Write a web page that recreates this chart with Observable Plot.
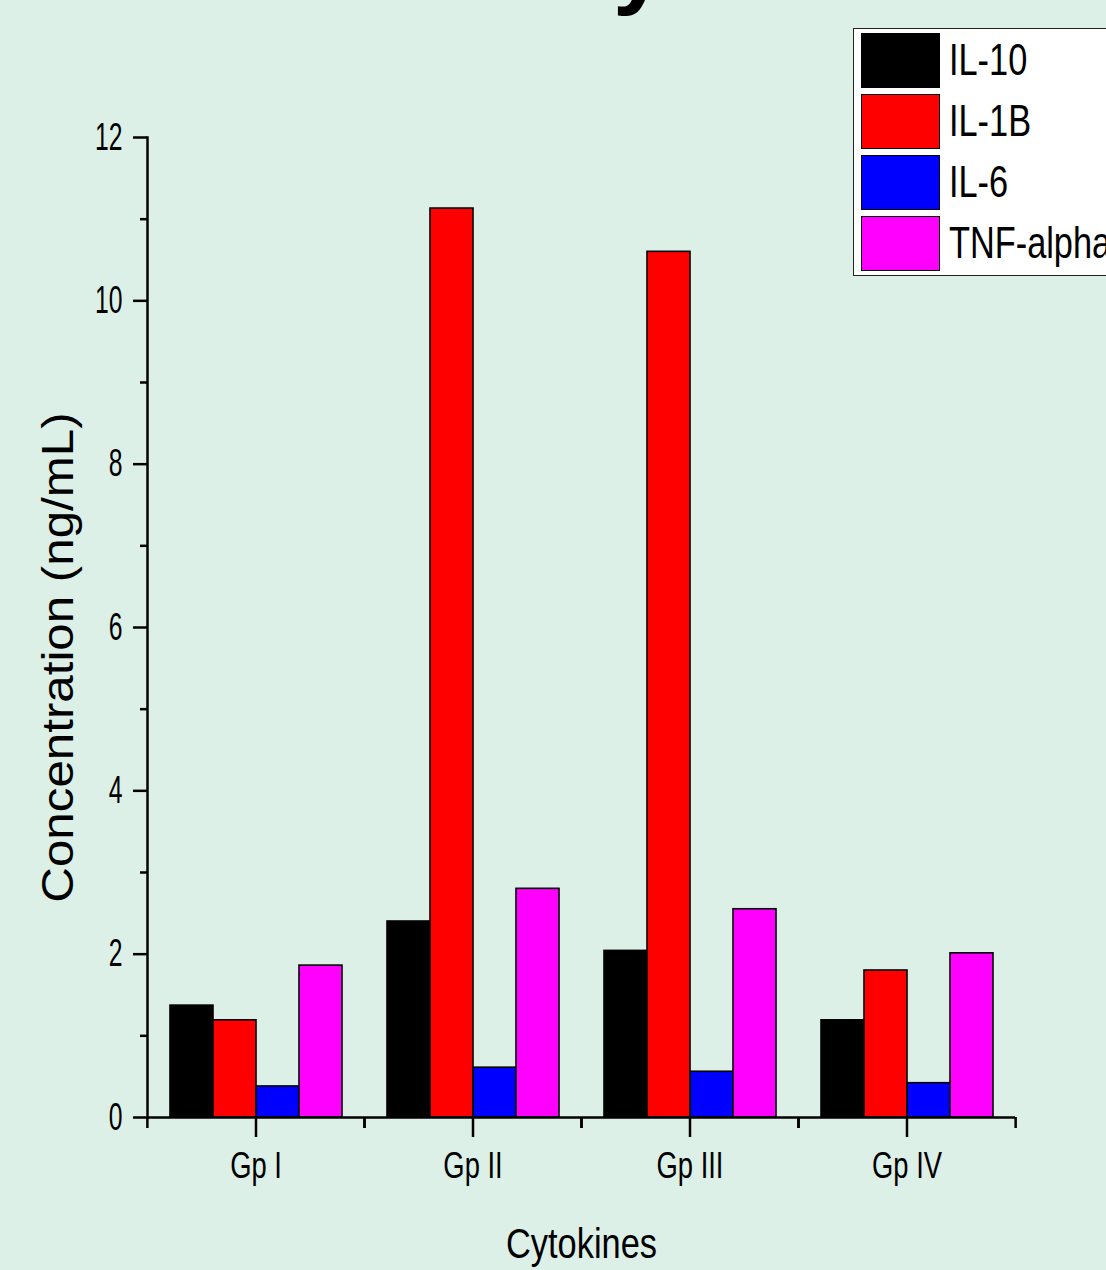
<!DOCTYPE html>
<html>
<head>
<meta charset="utf-8">
<script src="https://cdn.jsdelivr.net/npm/d3@7"></script>
<script src="https://cdn.jsdelivr.net/npm/@observablehq/plot@0.6"></script>
<style>
  html, body { margin: 0; padding: 0; background: #ddf0e7; }
  #wrap { position: relative; width: 1106px; height: 1270px; overflow: hidden; background: #ddf0e7; }
  #wrap svg { position: absolute; left: 0; top: 0; }
  g[aria-label="fx-axis label"] { font-size: 43px; }
  #legend {
    position: absolute; left: 853px; top: 28px; width: 300px;
    border: 1.5px solid #222; background: #ffffff;
    padding: 3.5px 0 4.5px 6.5px; box-sizing: content-box;
    font-family: 'Liberation Sans', Arial, sans-serif;
    font-size: 44px; color: #000;
  }
  .row { display: flex; align-items: center; height: 55px; margin-bottom: 6px; }
  .row:last-child { margin-bottom: 0; }
  .sw { width: 79px; height: 55px; box-sizing: border-box; border: 1.5px solid #000; flex: none; }
  .lab { margin-left: 9px; line-height: 1; white-space: nowrap; transform: scaleX(0.78); transform-origin: left center; }
  #toptitle {
    position: absolute; left: 613px; top: -84px; font-family: 'Liberation Sans', Arial, sans-serif;
    font-weight: bold; font-size: 95px; line-height: 95px; color: #000; white-space: nowrap;
  }
</style>
</head>
<body>
<div id="wrap">
  <div id="toptitle"></div>
  <div id="legend"></div>
</div>
<script>
// ---- data ----
const groups = ["Gp I", "Gp II", "Gp III", "Gp IV"];
const cytokines = ["IL-10", "IL-1B", "IL-6", "TNF-alpha"];
const il10 = [1.37, 2.40, 2.04, 1.19];
const il1b = [1.19, 11.13, 10.60, 1.80];
const il6  = [0.38, 0.61, 0.56, 0.42];
const tnf  = [1.86, 2.80, 2.55, 2.01];
const colors = ["#000000", "#ff0000", "#0000ff", "#ff00ff"];
const yTicks = [0, 2, 4, 6, 8, 10, 12];
const yMinor = [1, 3, 5, 7, 9, 11];
const xTitle = "Cytokines";
const yTitle = "Concentration (ng/mL)";
const topTitle = "y";

// ---- layout ----
const W = 1106, H = 1270;
const M = {left: 146, right: 91, top: 137, bottom: 153};
const bw = (W - M.left - M.right) / groups.length;
const regular = "'Liberation Sans', Arial, sans-serif";

const series = [il10, il1b, il6, tnf];
const data = groups.flatMap((g, i) => cytokines.map((c, j) => ({group: g, cytokine: c, value: series[j][i]})));

const chart = Plot.plot({
  width: W, height: H,
  marginLeft: M.left, marginRight: M.right, marginTop: M.top, marginBottom: M.bottom,
  style: {background: "transparent", color: "black", fontFamily: regular, overflow: "visible"},
  fx: {domain: groups, paddingInner: 0, paddingOuter: 0, label: null},
  x: {domain: cytokines, paddingInner: 0, paddingOuter: 0.5, axis: null},
  y: {domain: [yTicks[0], yTicks[yTicks.length - 1]]},
  color: {domain: cytokines, range: colors},
  marks: [
    Plot.barY(data, {fx: "group", x: "cytokine", y: "value", fill: "cytokine", stroke: "black", strokeWidth: 1.6}),
    Plot.ruleY([0], {stroke: "black", strokeWidth: 2.5}),
    Plot.frame({anchor: "left", facetAnchor: "left", stroke: "black", strokeWidth: 2.5}),
    Plot.axisY({ticks: yTicks, tickSize: 14, tickPadding: 11, strokeWidth: 2.5, fontSize: 38, label: null}),
    Plot.axisY({ticks: yMinor, tickSize: 7, strokeWidth: 2.5, tickFormat: () => "", label: null}),
    Plot.axisFx({anchor: "bottom", tickSize: 20, tickPadding: 15, strokeWidth: 2.5, fontSize: 36,
      label: xTitle, labelAnchor: "center", labelOffset: 140}),
    Plot.axisFx({anchor: "bottom", tickSize: 11, strokeWidth: 2.5, dx: -bw / 2, tickFormat: () => "", label: null}),
    Plot.axisFx({anchor: "bottom", tickSize: 11, strokeWidth: 2.5, dx: bw / 2, tickFormat: () => "", label: null}),
    Plot.text([yTitle], {text: d => d, frameAnchor: "left", textAnchor: "middle", rotate: -90, dx: -75, dy: 30,
      lineAnchor: "bottom", facetAnchor: "left", fontSize: 44, fontFamily: regular, fill: "black"})
  ]
});

const wrap = document.getElementById("wrap");
wrap.insertBefore(chart, wrap.firstChild);

// condense (or stretch) text along its own direction, keeping its anchor
function adjust(texts, factor) {
  texts.forEach(t => {
    const L = t.getComputedTextLength();
    if (L > 0) {
      t.setAttribute("textLength", (L * factor).toFixed(2));
      t.setAttribute("lengthAdjust", "spacingAndGlyphs");
    }
  });
}
const all = (sel) => Array.from(chart.querySelectorAll(sel));
adjust(all('g[aria-label="y-axis tick label"] text'), 0.65);
adjust(all('g[aria-label="fx-axis tick label"] text'), 0.76);
adjust(all('g[aria-label="fx-axis label"] text'), 0.80);
adjust(all('text').filter(t => t.textContent === yTitle), 1.12);

// legend
const legend = d3.select("#legend");
cytokines.forEach((c, i) => {
  const row = legend.append("div").attr("class", "row");
  row.append("div").attr("class", "sw").style("background", colors[i]);
  row.append("div").attr("class", "lab").text(c);
});
document.getElementById("toptitle").textContent = topTitle;
</script>
</body>
</html>
